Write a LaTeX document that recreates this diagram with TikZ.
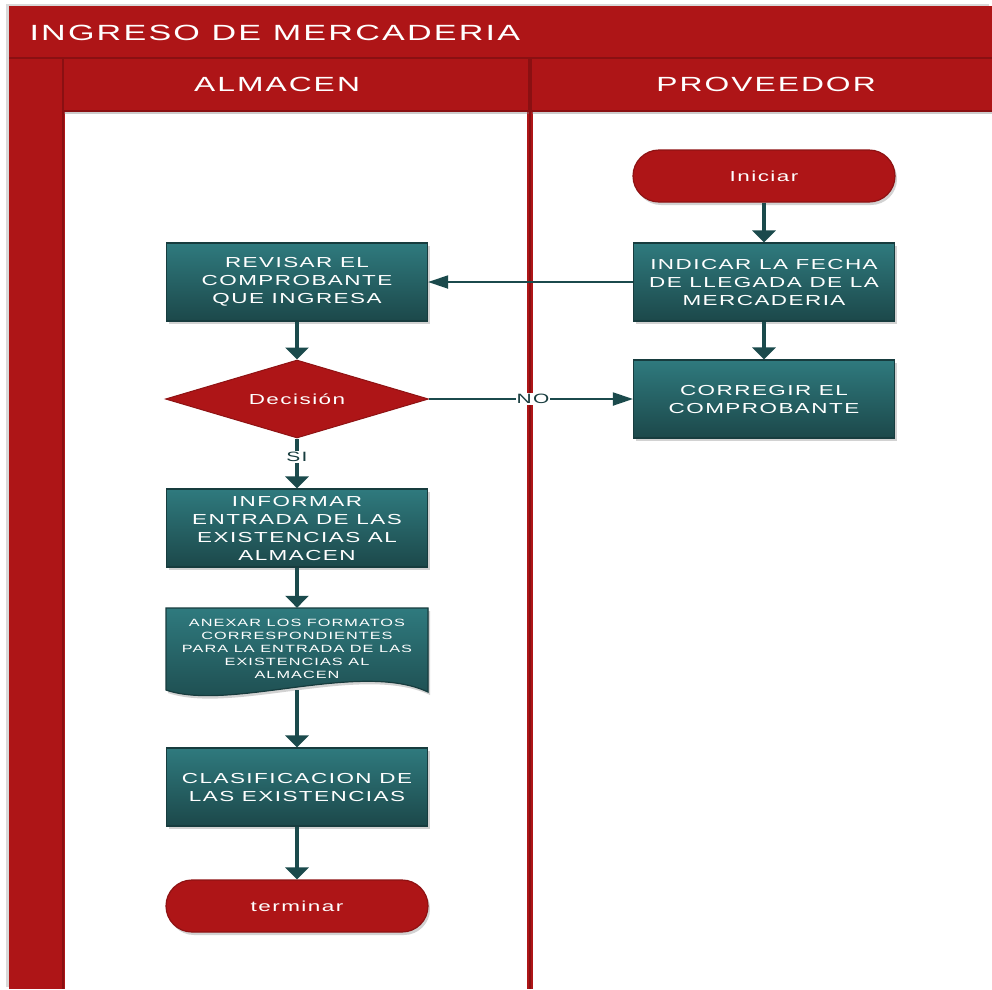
\documentclass[tikz,border=0pt]{standalone}
\usepackage{fontspec}
\setmainfont{Liberation Sans}[FakeStretch=1.55,LetterSpace=10]
\usetikzlibrary{shapes.geometric,arrows.meta,shadows,positioning}

\definecolor{lanered}{RGB}{174,21,23}
\definecolor{lanedark}{RGB}{138,16,18}
\definecolor{termline}{RGB}{142,18,19}
\definecolor{tealtop}{RGB}{47,122,126}
\definecolor{tealbot}{RGB}{28,72,74}
\definecolor{boxline}{RGB}{23,60,62}
\definecolor{flow}{RGB}{27,74,76}

\tikzset{
  boxshadow/.style={drop shadow={shadow xshift=2pt,shadow yshift=-3pt,opacity=.35}},
  proc/.style={rectangle, draw=boxline, line width=1.2pt, top color=tealtop, bottom color=tealbot,
    minimum width=261pt, minimum height=78pt, inner sep=0pt, text=white, align=center,
    font=\fontsize{14.5}{18}\selectfont, boxshadow},
  term/.style={rectangle, rounded corners=26pt, fill=lanered, draw=termline, line width=1.2pt,
    minimum width=262pt, minimum height=52pt, text=white, font=\fontsize{14.5}{18}\selectfont, boxshadow},
  decide/.style={diamond, aspect=3.4, fill=lanered, draw=termline, line width=1pt,
    minimum width=263pt, minimum height=78pt, inner sep=0pt, text=white,
    font=\fontsize{14.5}{18}\selectfont},
  lanehead/.style={rectangle, fill=lanered, draw=lanedark, line width=1.5pt, inner sep=0pt,
    drop shadow={shadow xshift=0pt,shadow yshift=-3pt,opacity=.4}},
  headtext/.style={text=white, font=\fontsize{20.5}{24}\selectfont},
  vflow/.style={draw=flow, line width=3.5pt, -{Triangle[width=23pt,length=12pt]}},
  hflow/.style={draw=flow, line width=2pt, -{Triangle[width=13pt,length=20pt]}},
  flowlabel/.style={fill=white, inner sep=1pt, text=boxline, font=\fontsize{13.5}{15}\selectfont}
}

\begin{document}
\begin{tikzpicture}[x=1pt,y=-1pt]
\useasboundingbox (0,0) rectangle (992,989);

% pool and lanes
\fill[lanered, drop shadow={shadow xshift=-3pt,shadow yshift=2pt,opacity=.3}] (9,6) rectangle (992,989);
\draw[lanedark, line width=1.5pt] (9,58) -- (992,58);
\node[anchor=west, text=white, font=\fontsize{22}{24}\selectfont] (pool) at (26,33) {INGRESO DE MERCADERIA};

\fill[white] (65,111) rectangle (527,989);
\fill[white] (533,111) rectangle (992,989);
\draw[lanedark, line width=1.5pt] (63,58) -- (63,989);
\draw[lanedark, line width=1.5pt] (530,58) -- (530,989);

\node[lanehead, minimum width=465pt, minimum height=53pt] (almacen) at (296,84.5) {};
\node[headtext] (almacentext) at ([xshift=-19pt]almacen.center) {ALMACEN};
\node[lanehead, minimum width=461pt, minimum height=53pt] (proveedor) at (762,84.5) {};
\node[headtext] (proveedortext) at ([xshift=4pt]proveedor.center) {PROVEEDOR};

% proveedor
\node[term] (iniciar) at (764,176) {Iniciar};
\node[proc] (indicar) at (764,282) {INDICAR LA FECHA\\DE LLEGADA DE LA\\MERCADERIA};
\node[proc] (corregir) at (764,399) {CORREGIR EL\\COMPROBANTE};

% almacen
\node[proc] (revisar) at (297,282) {REVISAR EL\\COMPROBANTE\\QUE INGRESA};
\node[decide] (decision) at (297,399) {Decisión};
\node[proc] (informar) at (297,528) {INFORMAR\\ENTRADA DE LAS\\EXISTENCIAS AL\\ALMACEN};

\filldraw[draw=boxline, line width=1.2pt, top color=tealtop, bottom color=tealbot, boxshadow]
  (166,608) -- (428,608) -- (428,692) .. controls (360,660) and (230,712) .. (166,690) -- cycle;
\node[text=white, align=center, minimum width=262pt, minimum height=82pt, inner sep=0pt,
  font=\fontsize{10.5}{12.9}\selectfont] (anexar) at (297,649)
  {ANEXAR LOS FORMATOS\\CORRESPONDIENTES\\PARA LA ENTRADA DE LAS\\EXISTENCIAS AL\\ALMACEN};

\node[proc] (clasificar) at (297,787) {CLASIFICACION DE\\LAS EXISTENCIAS};
\node[term] (terminar) at (297,906) {terminar};

% connectors
\draw[vflow] (iniciar) -- (indicar);
\draw[vflow] (indicar) -- (corregir);
\draw[hflow] (indicar) -- (revisar);
\draw[vflow] (revisar) -- (decision);
\draw[hflow] (decision) -- node[flowlabel, pos=.51] {NO} (corregir);
\draw[vflow] (decision) -- node[flowlabel, pos=.37] {SI} (informar);
\draw[vflow] (informar) -- (anexar);
\draw[vflow] (anexar.south) -- (clasificar);
\draw[vflow] (clasificar) -- (terminar);
\end{tikzpicture}
\end{document}
